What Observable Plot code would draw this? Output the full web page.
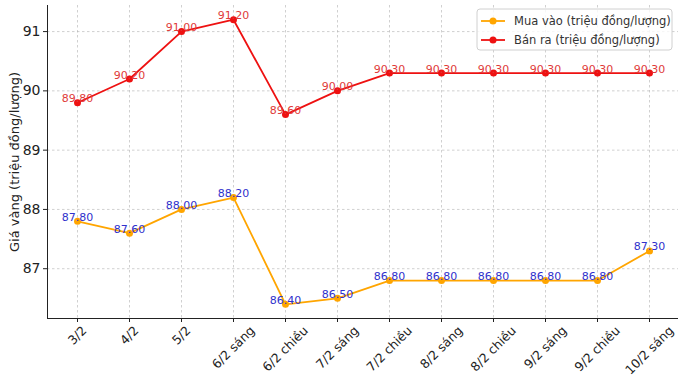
<!DOCTYPE html>
<html><head><meta charset="utf-8">
<script src="https://cdn.jsdelivr.net/npm/d3@7"></script>
<script src="https://cdn.jsdelivr.net/npm/@observablehq/plot@0.6"></script>
<style>body{margin:0;background:#fff} svg{font-family:"DejaVu Sans"}</style>
</head><body><div id="chart"></div>
<script>
const labels = ["3/2","4/2","5/2","6/2 sáng","6/2 chiều","7/2 sáng","7/2 chiều","8/2 sáng","8/2 chiều","9/2 sáng","9/2 chiều","10/2 sáng"];
const buyValues = [87.8, 87.6, 88.0, 88.2, 86.4, 86.5, 86.8, 86.8, 86.8, 86.8, 86.8, 87.3];
const sellValues = [89.8, 90.2, 91.0, 91.2, 89.6, 90.0, 90.3, 90.3, 90.3, 90.3, 90.3, 90.3];
const yTicks = [87, 88, 89, 90, 91];
const seriesNames = ["Mua vào (triệu đồng/lượng)", "Bán ra (triệu đồng/lượng)"];
const seriesColors = ["#FFA500", "#EE1111"];
const labelColors = ["#3030cc", "#e03a3a"];
const yLabel = "Giá vàng (triệu đồng/lượng)";

const buy = labels.map((d, i) => ({label: d, value: buyValues[i]}));
const sell = labels.map((d, i) => ({label: d, value: sellValues[i]}));
const grid = {stroke: "#b0b0b0", strokeOpacity: 0.6, strokeDasharray: "2.5,2.5"};

const chart = Plot.plot({
  width: 678, height: 381,
  marginLeft: 47, marginRight: 0, marginTop: 5, marginBottom: 63,
  style: {fontFamily: "DejaVu Sans", fontSize: "11px", background: "#fff", color: "#222"},
  x: {type: "point", domain: labels, padding: 0.55},
  y: {domain: [86.16, 91.44]},
  marks: [
    Plot.gridX(labels, grid),
    Plot.gridY(yTicks, grid),
    Plot.axisY(yTicks, {tickSize: 4, tickPadding: 3, fontSize: 14, label: null, stroke: "#222", tickFormat: d => String(d)}),
    Plot.axisX({tickRotate: -45, tickSize: 4, tickPadding: 6, fontSize: 12.5, label: null, stroke: "#222"}),
    Plot.frame({anchor: "left", stroke: "#222"}),
    Plot.frame({anchor: "bottom", stroke: "#222"}),
    Plot.text([yLabel], {frameAnchor: "left", rotate: -90, dx: -33, textAnchor: "middle", fontSize: 13, fill: "#222"}),
    Plot.line(buy, {x: "label", y: "value", stroke: seriesColors[0], strokeWidth: 1.8}),
    Plot.dot(buy, {x: "label", y: "value", fill: seriesColors[0], r: 3.5}),
    Plot.line(sell, {x: "label", y: "value", stroke: seriesColors[1], strokeWidth: 1.8}),
    Plot.dot(sell, {x: "label", y: "value", fill: seriesColors[1], r: 3.5}),
    Plot.text(buy, {x: "label", y: "value", text: d => d.value.toFixed(2), fill: labelColors[0], fontSize: 11, dy: -4}),
    Plot.text(sell, {x: "label", y: "value", text: d => d.value.toFixed(2), fill: labelColors[1], fontSize: 11, dy: -4})
  ]
});
document.getElementById("chart").appendChild(chart);

// center rotated x tick labels on their ticks
d3.select(chart).selectAll('[aria-label="x-axis tick label"] text').each(function() {
  const w = this.getComputedTextLength();
  const t = this.getAttribute("transform") || "";
  this.setAttribute("transform", `translate(${0.3535 * w},0) ` + t);
});

// legend
const svg = d3.select(chart);
const lg = svg.append("g").attr("transform", "translate(477,9)").attr("text-anchor", "start");
lg.append("rect").attr("width", 195).attr("height", 41).attr("rx", 3)
  .attr("fill", "#fff").attr("fill-opacity", 0.8).attr("stroke", "#d0d0d0");
seriesNames.forEach((name, i) => {
  const y = 12 + i * 19;
  lg.append("line").attr("x1", 4).attr("x2", 28).attr("y1", y).attr("y2", y)
    .attr("stroke", seriesColors[i]).attr("stroke-width", 1.8);
  lg.append("circle").attr("cx", 16).attr("cy", y).attr("r", 3.5).attr("fill", seriesColors[i]);
  lg.append("text").attr("x", 37).attr("y", y).attr("dy", "0.35em").attr("text-anchor", "start")
    .attr("font-size", 11.5).attr("fill", "#333").text(name);
});
</script></body></html>
